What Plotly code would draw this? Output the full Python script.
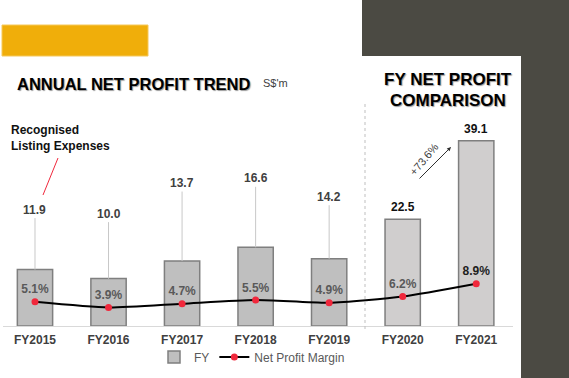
import plotly.graph_objects as go

# ---------------- data ----------------
years = ["FY2015", "FY2016", "FY2017", "FY2018", "FY2019", "FY2020", "FY2021"]
net_profit = [11.9, 10.0, 13.7, 16.6, 14.2, 22.5, 39.1]          # S$'m
net_margin = [5.1, 3.9, 4.7, 5.5, 4.9, 6.2, 8.9]                 # %
growth_label = "+73.6%"

# ---------------- styling / layout helpers ----------------
W, H = 569, 378
L, R, T, B = 3, 56, 102, 52
PW, PH = W - L - R, H - T - B
PX_PER_UNIT = 4.74
FONT = "Liberation Sans"

def px(x):  # pixel x -> paper
    return (x - L) / PW

def py(y):  # pixel y -> paper
    return (H - B - y) / PH

bar_fill = ["#BFBFBF"] * 5 + ["#D0CECE"] * 2
value_colors = ["#404040"] * 5 + ["#111111"] * 2
pct_colors = ["#595959"] * 6 + ["#1E1E1E"]
label_offsets_px = [-60, -65, -78, -69, -62]   # leader-line label offsets for FY2015-FY2019

fig = go.Figure()

fig.add_trace(go.Bar(
    x=years, y=net_profit, name="FY",
    marker=dict(color=bar_fill, line=dict(color="#7F7F7F", width=1.5)),
    width=0.48, hoverinfo="x+y",
))

fig.add_trace(go.Scatter(
    x=years, y=net_margin, name="Net Profit Margin",
    mode="lines+markers+text",
    line=dict(color="#000000", width=2, shape="spline", smoothing=0.6),
    marker=dict(color="#F0283C", size=7),
    text=[f"{v:.1f}%" for v in net_margin],
    textposition="top center",
    textfont=dict(family=FONT, size=12, color=pct_colors, weight="bold"),
    cliponaxis=False,
))

annotations = []
# value labels with leader lines (FY2015-FY2019)
for i in range(5):
    annotations.append(dict(
        x=years[i], y=net_profit[i], xref="x", yref="y",
        text=f"{net_profit[i]:.1f}", showarrow=True, arrowhead=0,
        arrowcolor="#C8C8C8", arrowwidth=1, ax=0, ay=label_offsets_px[i],
        standoff=0, startstandoff=0,
        font=dict(family=FONT, size=12, color=value_colors[i], weight="bold"),
    ))
# value labels just above the bar (FY2020, FY2021)
for i in range(5, 7):
    annotations.append(dict(
        x=years[i], y=net_profit[i], xref="x", yref="y",
        text=f"{net_profit[i]:.1f}", showarrow=False, yanchor="bottom", yshift=3,
        font=dict(family=FONT, size=12, color=value_colors[i], weight="bold"),
    ))

title_font = dict(family=FONT, color="#000000", weight="bold", shadow="1px 1px 1px #9a9a9a")
# titles
annotations += [
    dict(xref="paper", yref="paper", x=px(15), y=py(84), xanchor="left", yanchor="middle",
         text="ANNUAL NET PROFIT TREND", showarrow=False, font=dict(size=16.5, **title_font)),
    dict(xref="paper", yref="paper", x=px(261), y=py(83), xanchor="left", yanchor="middle",
         text="S$'m", showarrow=False, font=dict(family=FONT, size=11, color="#404040")),
    dict(xref="paper", yref="paper", x=px(448), y=py(80), xanchor="center", yanchor="middle",
         text="FY NET PROFIT", showarrow=False, font=dict(size=17, **title_font)),
    dict(xref="paper", yref="paper", x=px(448), y=py(100), xanchor="center", yanchor="middle",
         text="COMPARISON", showarrow=False, font=dict(size=17, **title_font)),
    dict(xref="paper", yref="paper", x=px(9), y=py(138), xanchor="left", yanchor="middle",
         align="left", text="Recognised<br>Listing Expenses", showarrow=False,
         font=dict(family=FONT, size=12, color="#111111", weight="bold")),
    # growth arrow
    dict(xref="paper", yref="paper", x=px(451), y=py(147), text="", showarrow=True,
         arrowhead=2, arrowsize=0.8, arrowwidth=1, arrowcolor="#303030",
         axref="pixel", ayref="pixel", ax=-33, ay=33),
    dict(xref="paper", yref="paper", x=px(424), y=py(159), xanchor="center", yanchor="middle",
         text=growth_label, textangle=-50, showarrow=False,
         font=dict(family=FONT, size=11, color="#404040")),
]

shapes = [
    # yellow tab
    dict(type="rect", xref="paper", yref="paper", x0=px(2), x1=px(148), y0=py(56), y1=py(25),
         fillcolor="#F0AE0A", line=dict(color="#F5C85A", width=1), layer="above"),
    # dark frame
    dict(type="rect", xref="paper", yref="paper", x0=px(362), x1=px(575), y0=py(56), y1=py(-5),
         fillcolor="#4B4A43", line=dict(width=0), layer="above"),
    dict(type="rect", xref="paper", yref="paper", x0=px(521), x1=px(575), y0=py(383), y1=py(56),
         fillcolor="#4B4A43", line=dict(width=0), layer="above"),
    # dotted separator
    dict(type="line", xref="paper", yref="paper", x0=px(365), x1=px(365), y0=py(329), y1=py(102),
         line=dict(color="#BFBFBF", width=1, dash="dot")),
    # red pointer for listing expenses
    dict(type="line", xref="paper", yref="paper", x0=px(58), x1=px(43), y0=py(158), y1=py(195),
         line=dict(color="#F0283C", width=1)),
]

fig.update_layout(
    width=W, height=H,
    margin=dict(l=L, r=R, t=T, b=B, pad=0),
    paper_bgcolor="#FFFFFF", plot_bgcolor="#FFFFFF",
    font=dict(family=FONT, size=12, color="#404040"),
    showlegend=True,
    legend=dict(orientation="h", x=px(252), xanchor="center", y=py(357), yanchor="middle",
                font=dict(family=FONT, size=12, color="#595959"),
                bgcolor="rgba(0,0,0,0)", itemwidth=30),
    annotations=annotations,
    shapes=shapes,
    bargap=0.5,
)
fig.update_xaxes(
    range=[-0.435, 6.5], showgrid=False, showline=True, linecolor="#D9D9D9", linewidth=1,
    ticks="", ticklabelstandoff=3,
    tickfont=dict(family=FONT, size=12, color="#404040", weight="bold"),
    zeroline=False, fixedrange=True,
)
fig.update_yaxes(
    range=[0, PH / PX_PER_UNIT], visible=False, showgrid=False, zeroline=False, fixedrange=True,
)

fig.write_html("out.html", config=dict(displayModeBar=False),
               post_script="document.body.style.margin='0';document.body.style.padding='0';")
